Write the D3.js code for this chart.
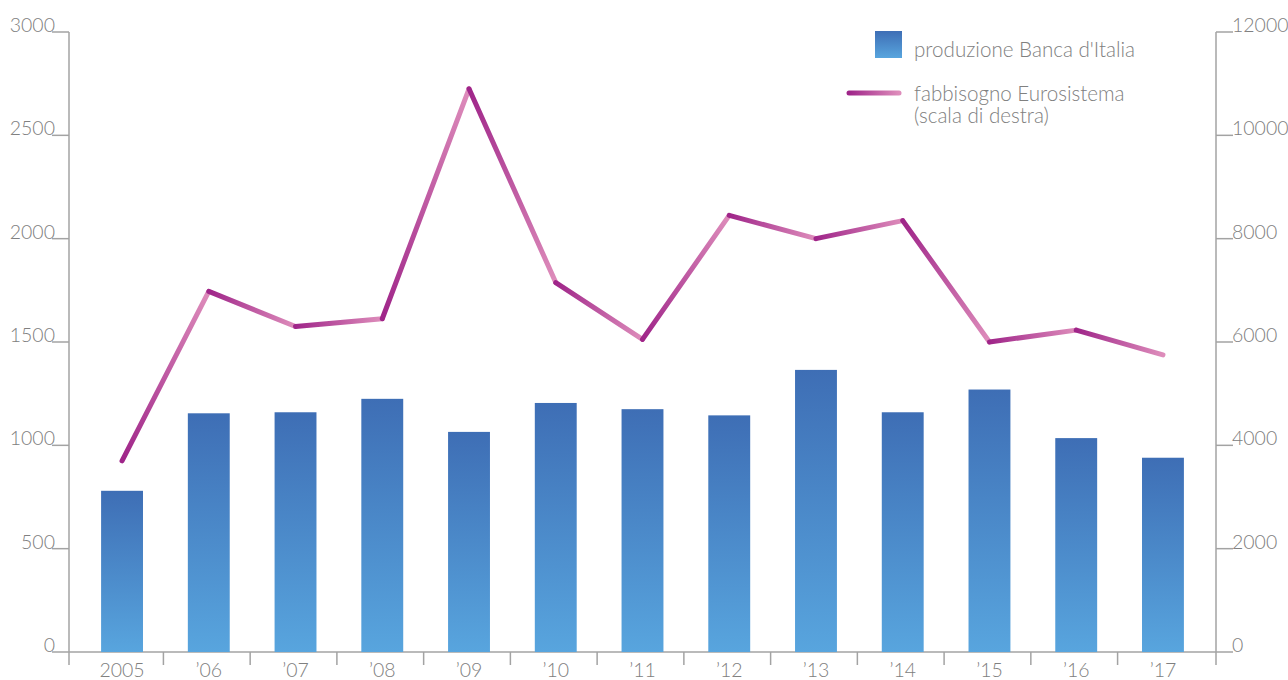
<!DOCTYPE html>
<html>
<head>
<meta charset="utf-8">
<script src="https://cdn.jsdelivr.net/npm/d3@7"></script>
<style>
  html, body { margin: 0; padding: 0; background: #fff; }
  svg { display: block; }
  text { font-family: Lato, "Open Sans", sans-serif; font-weight: 300; fill: #808080; }
</style>
</head>
<body>
<svg id="chart" width="1288" height="680"></svg>
<script>
// Banknote production by Banca d'Italia (left axis, bars) and
// Eurosystem requirement (right axis, line), 2005-2017.
const years = ["2005", "’06", "’07", "’08", "’09", "’10", "’11", "’12", "’13", "’14", "’15", "’16", "’17"];
const produzione = [780, 1155, 1160, 1225, 1065, 1205, 1175, 1145, 1365, 1160, 1270, 1035, 940];
const fabbisogno = [3700, 6980, 6300, 6450, 10900, 7150, 6050, 8450, 8000, 8350, 6000, 6230, 5750];
const leftTicks = [0, 500, 1000, 1500, 2000, 2500, 3000];
const rightTicks = [0, 2000, 4000, 6000, 8000, 10000, 12000];
const legendBar = "produzione Banca d'Italia";
const legendLine = ["fabbisogno Eurosistema", "(scala di destra)"];

const svg = d3.select("#chart");
const plotLeft = 69, plotRight = 1216, plotTop = 32, plotBottom = 652, tickLen = 17, drop = 13;

const x = d3.scaleBand().domain(years).range([plotLeft, plotRight]).paddingInner(0.517).paddingOuter(0.37);
const yL = d3.scaleLinear().domain([0, 3000]).range([plotBottom, plotTop]);
const yR = d3.scaleLinear().domain([0, 12000]).range([plotBottom, plotTop]);

const defs = svg.append("defs");
const barGrad = defs.append("linearGradient").attr("id", "barGrad")
  .attr("x1", 0).attr("y1", 0).attr("x2", 0).attr("y2", 1);
barGrad.append("stop").attr("offset", 0).attr("stop-color", "#3e6eb5");
barGrad.append("stop").attr("offset", 1).attr("stop-color", "#58a5de");

const lineDark = "#9f2589", lineLight = "#de8dbb";
const axisColor = "#a3a3a3";

// axes
const axes = svg.append("g").attr("stroke", axisColor).attr("stroke-width", 1.5).attr("fill", "none");
axes.append("line").attr("x1", plotLeft).attr("x2", plotLeft).attr("y1", yL(3000)).attr("y2", plotBottom + drop);
axes.append("line").attr("x1", plotRight).attr("x2", plotRight).attr("y1", yR(12000)).attr("y2", plotBottom + drop);
axes.append("line").attr("x1", plotLeft).attr("x2", plotRight).attr("y1", plotBottom).attr("y2", plotBottom);
axes.selectAll(".tl").data(leftTicks).join("line")
  .attr("x1", plotLeft - tickLen).attr("x2", plotLeft).attr("y1", d => yL(d)).attr("y2", d => yL(d));
axes.selectAll(".tr").data(rightTicks).join("line")
  .attr("x1", plotRight).attr("x2", plotRight + tickLen).attr("y1", d => yR(d)).attr("y2", d => yR(d));
// category separators
const sep = years.slice(1).map((d, i) => (x(years[i]) + x.bandwidth() + x(d)) / 2 - 2);
axes.selectAll(".sep").data(sep).join("line")
  .attr("x1", d => d).attr("x2", d => d).attr("y1", plotBottom).attr("y2", plotBottom + drop);

svg.append("g").selectAll("text").data(leftTicks).join("text")
  .attr("x", plotLeft - 14).attr("y", d => yL(d)).attr("text-anchor", "end")
  .attr("font-size", 19.5).text(d => d);
svg.append("g").selectAll("text").data(rightTicks).join("text")
  .attr("x", plotRight + 16).attr("y", d => yR(d)).attr("text-anchor", "start")
  .attr("font-size", 19.5).text(d => d);
svg.append("g").selectAll("text").data(years).join("text")
  .attr("x", d => x(d) + x.bandwidth() / 2).attr("y", 677).attr("text-anchor", "middle")
  .attr("font-size", 19.5).text(d => d);

// bars
svg.append("g").selectAll("rect").data(produzione).join("rect")
  .attr("x", (d, i) => x(years[i])).attr("width", x.bandwidth())
  .attr("y", d => yL(d)).attr("height", d => plotBottom - yL(d))
  .attr("fill", "url(#barGrad)");

// line: each segment fades from dark at its start to light at its end
const pts = fabbisogno.map((v, i) => [x(years[i]) + x.bandwidth() / 2, yR(v)]);
const segs = d3.pairs(pts);
segs.forEach((s, i) => {
  const g = defs.append("linearGradient").attr("id", "seg" + i).attr("gradientUnits", "userSpaceOnUse")
    .attr("x1", s[0][0]).attr("y1", s[0][1]).attr("x2", s[1][0]).attr("y2", s[1][1]);
  g.append("stop").attr("offset", 0).attr("stop-color", lineDark);
  g.append("stop").attr("offset", 1).attr("stop-color", lineLight);
});
svg.append("g").selectAll("line").data(segs).join("line")
  .attr("x1", d => d[0][0]).attr("y1", d => d[0][1]).attr("x2", d => d[1][0]).attr("y2", d => d[1][1])
  .attr("stroke", (d, i) => `url(#seg${i})`).attr("stroke-width", 5).attr("stroke-linecap", "round");

// legend
const lg = svg.append("g");
lg.append("rect").attr("x", 875).attr("y", 31).attr("width", 27).attr("height", 27).attr("fill", "url(#barGrad)");
lg.append("text").attr("x", 914).attr("y", 57).attr("font-size", 20.6).text(legendBar);
const legGrad = defs.append("linearGradient").attr("id", "legLine").attr("gradientUnits", "userSpaceOnUse")
  .attr("x1", 849).attr("x2", 899).attr("y1", 0).attr("y2", 0);
legGrad.append("stop").attr("offset", 0).attr("stop-color", lineDark);
legGrad.append("stop").attr("offset", 1).attr("stop-color", lineLight);
lg.append("line").attr("x1", 849).attr("x2", 899).attr("y1", 93).attr("y2", 93)
  .attr("stroke", "url(#legLine)").attr("stroke-width", 5).attr("stroke-linecap", "round");
lg.selectAll(".ll").data(legendLine).join("text")
  .attr("x", 914).attr("y", (d, i) => 101 + i * 22).attr("font-size", 20.6).text(d => d);
</script>
</body>
</html>
